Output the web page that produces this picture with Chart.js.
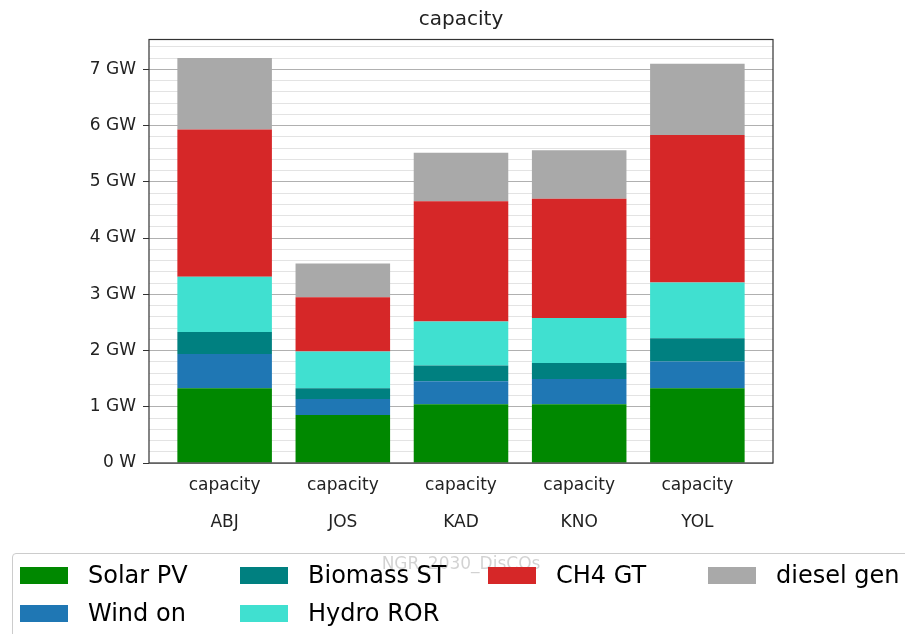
<!DOCTYPE html>
<html>
<head>
<meta charset="utf-8">
<script src="https://cdn.jsdelivr.net/npm/chart.js@4.4.1/dist/chart.umd.min.js"></script>
<style>
  html, body { margin: 0; padding: 0; background: #fff; overflow: hidden; }
  #wrap { position: relative; width: 905px; height: 634px; }
  #legend {
    position: absolute; left: 12px; top: 553px; width: 940px; height: 120px;
    box-sizing: border-box; border: 1px solid #cccccc; border-radius: 4px;
    background: rgba(255, 255, 255, 0.8);
    padding: 2px 0 0 7px;
    display: grid; grid-template-columns: 220px 248px 220px auto; grid-template-rows: 38px 38px;
    font-family: "DejaVu Sans", sans-serif; font-size: 24px; color: #000;
  }
  .item { display: flex; align-items: center; white-space: nowrap; }
  .swatch { width: 48px; height: 17px; margin-right: 20px; flex: none; }
</style>
</head>
<body>
<div id="wrap">
  <canvas id="chart" width="905" height="634"></canvas>
  <div id="legend"></div>
</div>
<script>
// Data (GW per region)
const REGIONS = ["ABJ", "JOS", "KAD", "KNO", "YOL"];
const CARRIER = "capacity";
const SERIES_NAMES = ["Solar PV", "Wind on", "Biomass ST", "Hydro ROR", "CH4 GT", "diesel gen"];
const COLORS = ["#008800", "#1f77b4", "#008080", "#40e0d0", "#d62728", "#a9a9a9"];

const SOLAR_PV = [1.33, 0.855, 1.045, 1.045, 1.33];
const WIND_ON = [0.61, 0.285, 0.41, 0.45, 0.475];
const BIOMASS_ST = [0.39, 0.19, 0.28, 0.285, 0.415];
const HYDRO_ROR = [0.98, 0.653, 0.783, 0.8, 0.99];
const CH4_GT = [2.62, 0.962, 2.138, 2.12, 2.62];
const DIESEL_GEN = [1.27, 0.6, 0.862, 0.86, 1.27];

const Y_TICK_LABELS = ["0 W", "1 GW", "2 GW", "3 GW", "4 GW", "5 GW", "6 GW", "7 GW"];

const SERIES = [SOLAR_PV, WIND_ON, BIOMASS_ST, HYDRO_ROR, CH4_GT, DIESEL_GEN];
const TEXT = "#222222";
const FONT = '"DejaVu Sans", sans-serif';

function isMajor(v) {
  return Math.abs(v - Math.round(v)) < 1e-6;
}

// spines on all four sides, like matplotlib
const framePlugin = {
  id: "frame",
  afterDraw(chart) {
    const { ctx, chartArea: a } = chart;
    ctx.save();
    ctx.strokeStyle = "#333333";
    ctx.lineWidth = 1.2;
    ctx.strokeRect(a.left, a.top, a.right - a.left, a.bottom - a.top);
    ctx.restore();
  },
};

const datasets = SERIES.map((vals, k) => ({
  label: SERIES_NAMES[k],
  data: vals.map((v, i) => ({ x: i, y: v })),
  backgroundColor: COLORS[k],
  borderWidth: 0,
  barPercentage: 0.8,
  categoryPercentage: 1.0,
}));

new Chart(document.getElementById("chart"), {
  type: "bar",
  data: { datasets },
  plugins: [framePlugin],
  options: {
    responsive: false,
    animation: false,
    events: [],
    plugins: {
      legend: { display: false },
      tooltip: { enabled: false },
      title: {
        display: true,
        text: "capacity",
        fullSize: false,
        color: TEXT,
        font: { family: FONT, size: 20, weight: "normal" },
        padding: { top: 8, bottom: 7.5 },
      },
    },
    scales: {
      x: {
        type: "linear",
        stacked: true,
        offset: false,
        min: -0.64,
        max: 4.64,
        grid: { display: false, drawTicks: false, offset: false },
        border: { display: false },
        afterBuildTicks: (s) => {
          s.ticks = REGIONS.map((_, i) => ({ value: i }));
        },
        afterFit: (s) => {
          s.height = 171;
        },
        ticks: {
          autoSkip: false,
          maxRotation: 0,
          padding: 13,
          color: TEXT,
          font: { family: FONT, size: 17, lineHeight: 1.09 },
          callback: (v) => [CARRIER, "", REGIONS[v]],
        },
        title: {
          display: true,
          text: "NGR_2030_DisCOs",
          color: TEXT,
          font: { family: FONT, size: 17 },
          padding: { top: 0, bottom: 59 },
        },
      },
      y: {
        stacked: true,
        min: 0,
        max: 7.53,
        afterFit: (s) => {
          s.width = 149;
        },
        border: { display: false },
        grid: {
          color: (c) => (isMajor(c.tick.value) ? "#b0b0b0" : "#e3e3e3"),
          tickColor: (c) => (isMajor(c.tick.value) ? "#333333" : "rgba(0,0,0,0)"),
          tickLength: 6,
          lineWidth: 1,
        },
        ticks: {
          stepSize: 0.2,
          autoSkip: false,
          includeBounds: false,
          padding: 7,
          color: TEXT,
          font: { family: FONT, size: 17 },
          callback: (v) => (isMajor(v) ? Y_TICK_LABELS[Math.round(v)] : ""),
        },
      },
      pad: {
        type: "linear",
        position: "right",
        display: true,
        grid: { display: false, drawTicks: false },
        border: { display: false },
        ticks: { display: false },
        afterFit: (s) => {
          s.width = 132;
        },
      },
    },
  },
});

// legend laid out column-wise like matplotlib (ncol = 4)
function buildLegend() {
  const ncols = 4;
  const n = SERIES_NAMES.length;
  const nrows = Math.ceil(n / ncols);
  const nLarge = n % ncols || ncols;
  const el = document.getElementById("legend");
  let idx = 0;
  for (let c = 0; c < ncols; c++) {
    const rows = c < nLarge ? nrows : nrows - 1;
    for (let r = 0; r < rows && idx < n; r++, idx++) {
      const item = document.createElement("div");
      item.className = "item";
      item.style.gridColumn = c + 1;
      item.style.gridRow = r + 1;
      item.innerHTML =
        `<span class="swatch" style="background:${COLORS[idx]}"></span><span>${SERIES_NAMES[idx]}</span>`;
      el.appendChild(item);
    }
  }
}
buildLegend();
</script>
</body>
</html>
